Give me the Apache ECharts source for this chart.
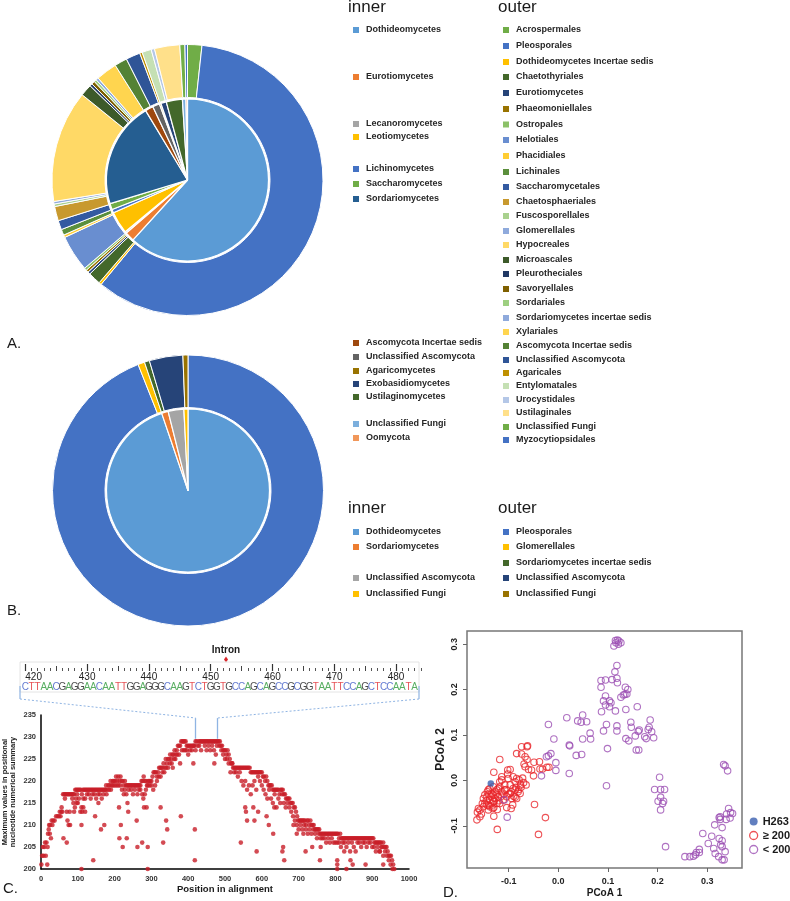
<!DOCTYPE html>
<html><head><meta charset="utf-8">
<script src="https://cdn.jsdelivr.net/npm/echarts@6/dist/echarts.min.js"></script>
<style>html,body{margin:0;padding:0;background:#fff}#c{width:790px;height:901px}</style>
</head><body><div id="c"></div>
<script>
// ---------------- DATA ----------------
// Panel A (percent of reads)
const aInnerNames = ['Dothideomycetes','Eurotiomycetes','Lecanoromycetes','Leotiomycetes','Lichinomycetes','Saccharomycetes','Sordariomycetes','Ascomycota Incertae sedis','Unclassified Ascomycota','Agaricomycetes','Exobasidiomycetes','Ustilaginomycetes','Unclassified Fungi','Oomycota'];
const aInnerValues = [61.5,1.9,0.3,4.4,0.7,1.2,21.0,1.6,1.4,0.3,1.1,3.2,0.7,0.3];
const aOuterNames = ['Acrospermales','Pleosporales','Dothideomycetes Incertae sedis','Chaetothyriales','Eurotiomycetes','Phaeomoniellales','Ostropales','Helotiales','Phacidiales','Lichinales','Saccharomycetales','Chaetosphaeriales','Fuscosporellales','Glomerellales','Hypocreales','Microascales','Pleurotheciales','Savoryellales','Sordariales','Sordariomycetes incertae sedis','Xylariales','Ascomycota Incertae sedis','Unclassified Ascomycota','Agaricales','Entylomatales','Urocystidales','Ustilaginales','Unclassified Fungi','Myzocytiopsidales'];
const aOuterValues = [1.7,59.0,0.3,1.5,0.3,0.3,0.3,4.3,0.3,0.7,1.1,1.7,0.3,0.3,13.3,1.4,0.3,0.4,0.3,0.3,2.5,1.5,1.7,0.3,1.1,0.4,3.0,0.6,0.3];
// Panel B
const bInnerNames = ['Dothideomycetes','Sordariomycetes','Unclassified Ascomycota','Unclassified Fungi'];
const bInnerValues = [94.4,1.3,3.1,0.8];
const bOuterNames = ['Pleosporales','Glomerellales','Sordariomycetes incertae sedis','Unclassified Ascomycota','Unclassified Fungi'];
const bOuterValues = [94.0,0.8,0.6,4.0,0.6];
// Panel C sequence header
const seqStart = 420;
const sequence = 'CTTAACGAGGAACAATTGGAGGGCAAGTCTGGTGCCAGCAGCCGCGGTAATTCCAGCTCCAATA';
const rulerLabels = [420,430,440,450,460,470,480];
const rulerMid = [425,435,445,455,465,475];
// Panel C scatter: [position, max value]
const cTop = [[1,201],[3,203],[5,205],[7,203],[9,205],[11,206],[13,203],[15,206],[17,201],[18,205],[19,208],[21,209],[22,210],[24,208],[25,210],[27,207],[29,211],[31,210],[33,211],[37,211],[41,212],[45,212],[49,212],[51,213],[53,212],[55,213],[56,214],[58,213],
[60,217],[63,217],[66,217],[69,217],[72,217],[75,217],[78,217],[81,217],[84,217],[87,217],[90,217],[93,218],[96,218],[99,218],[102,218],[105,218],[108,218],[111,217],[114,218],[117,218],[120,218],[123,218],[126,218],[129,218],[132,218],[135,218],[138,218],[141,218],[144,218],[147,218],[150,218],[153,218],[156,218],[159,218],[162,218],[165,218],[168,218],[171,218],[174,218],[177,219],[180,218],[183,219],[186,219],[189,220],[192,219],[195,220],[198,220],[201,220],[204,221],[207,220],[210,221],[213,220],[216,221],[219,220],[222,220],[225,219],[228,220],[231,219],[234,219],[237,219],[240,219],[243,219],[246,219],[249,219],[252,219],[255,219],[258,219],[261,219],[264,219],[267,219],[270,219],[273,220],[276,220],[279,221],[282,220],[285,220],[288,219],[291,220],[294,220],[297,220],[300,220],[303,221],[306,222],[309,222],[312,222],[315,221],[318,222],[321,223],[324,223],[327,223],[330,223],[333,224],[336,223],[339,225],[342,224],[345,225],[348,225],[351,226],[354,225],[357,226],[360,226],[363,227],[366,226],[369,227],[372,228],[375,228],[378,228],[381,229],[384,229],[387,229],[390,229],[393,229],[396,228],[399,228],[402,228],[405,228],[408,228],[411,228],[414,228],[417,228],[420,229],[423,229],[426,228],[429,229],[432,229],[435,229],[438,229],[441,229],[444,229],[447,229],[450,229],[453,229],[456,229],[459,229],[462,229],[465,229],[468,229],[471,229],[474,229],[477,229],[480,229],[483,229],[486,229],[489,228],[492,228],[495,227],[498,227],[501,227],[504,226],[507,227],[510,226],[513,225],[516,224],[519,224],[522,223],[525,223],[528,223],[531,223],[534,223],[537,223],[540,223],[543,223],[546,223],[549,223],[552,223],[555,223],[558,223],[561,223],[564,223],[567,223],[570,222],[573,222],[576,222],[579,222],[582,222],[585,222],[588,222],[591,222],[594,222],[597,222],[600,222],[603,221],[606,221],[609,220],[612,221],[615,220],[618,219],[621,219],[624,219],[627,219],[630,218],[633,218],[636,218],[639,218],[642,218],[645,218],[648,217],[651,218],[654,218],[657,218],[660,217],[663,217],[666,216],[669,216],[672,216],[675,216],[678,215],[681,215],[684,215],[687,214],[690,214],[693,213],[696,212],[699,211],[702,211],[705,211],[708,211],[711,211],[714,211],[717,211],[720,210],[723,211],[726,211],[729,210],[732,211],[735,210],[738,210],[741,210],[744,209],[747,209],[750,209],[753,209],[756,209],[759,208],[762,208],[765,208],[768,208],[771,208],[774,208],[777,208],[780,208],[783,208],[786,208],[789,208],[792,208],[795,208],[798,208],[801,208],[804,208],[807,208],[810,207],[813,208],[816,207],[819,207],[822,207],[825,207],[828,207],[831,207],[834,207],[837,207],[840,207],[843,207],[846,207],[849,207],[852,207],[855,207],[858,207],[861,207],[864,207],[867,207],[870,207],[873,207],[876,207],[879,207],[882,207],[885,207],[888,207],[891,207],[894,207],[897,207],[900,207],[903,207],[906,206],[909,206],[912,206],[915,206],[918,206],[921,206],[924,206],[927,205],[930,206],[933,205],[936,205],[939,205],[942,204],[945,203],[948,203],[951,203],[954,202],[957,201],[960,200]];
const cLower = [[65,216],[70,213],[72,211],[75,210],[78,213],[85,216],[88,215],[90,213],[92,214],[95,216],[98,217],[100,215],[103,216],[107,213],[110,214],[112,213],[115,216],[120,216],[125,217],[130,217],[135,216],[140,217],[145,217],[150,216],[155,217],[160,217],[165,216],[170,217],[175,218],[178,217],
[185,218],[190,218],[195,219],[200,219],[205,219],[210,219],[215,219],[220,218],[225,217],[228,218],[232,217],[238,218],[245,218],[250,217],[255,218],[262,217],[266,218],[270,218],[275,217],[278,216],[282,217],[285,218],[290,219],[295,219],[300,219],[305,218],[310,219],[315,220],[320,221],[325,221],[330,222],[335,222],[340,223],[345,223],[350,224],[355,224],[358,223],[362,225],[365,225],[370,226],[375,226],[378,224],[383,227],[388,227],[392,227],[396,227],[400,226],[405,227],[410,227],
[415,228],[420,227],[430,228],[435,227],[445,228],[450,227],[455,228],[460,227],[465,228],[470,227],[475,226],[478,228],[485,228],[490,227],[495,226],[500,225],[505,225],[510,224],[515,222],[520,224],[525,222],[530,222],[535,221],[540,222],
[545,220],[550,219],[555,220],[560,218],[565,219],[570,217],[575,219],[580,220],[585,218],[590,221],[595,220],[600,219],[605,218],[610,217],[615,216],[620,218],[625,216],[630,215],[635,217],[640,214],[645,216],[650,215],[655,217],[660,215],[665,214],[670,215],[675,214],[680,213],[685,212],[690,211],[695,210],[700,209],[705,210],[710,209],[715,210],[720,209],[725,208],[730,209],[735,208],[740,209],[745,208],[750,207],[755,208],[760,207],[765,207],[770,207],[775,206],[780,207],[785,206],[790,207],[795,206],[800,206],[805,206],[810,206],[815,205],[820,206],[825,206],[830,205],[835,206],[840,204],[845,206],[850,205],[855,204],[860,206],[865,206],[870,205],[875,206],[880,206],[885,205],[890,206],[895,206],[900,205],[905,205],[910,204],[915,205],[920,204],[925,205],[930,203],[935,204],[940,203],[945,202],[950,201],[955,200]];
const cOutliers = [[61,207],[70,206],[79,210],[110,200],[142,202],[147,212],[156,215],[163,209],[172,210],[110,210],[115,214],[120,213],[97,215],[212,214],[213,207],[217,210],[222,205],[233,207],[235,215],[237,213],[260,211],[262,205],[275,206],[280,214],[287,214],[290,205],[290,200],[325,214],[332,206],[340,211],[343,209],[380,212],[414,224],[418,209],[418,202],[471,224],[543,206],[555,214],[557,213],[560,211],[580,211],[586,204],[577,214],[590,213],[613,212],[619,210],[631,208],[634,214],[658,205],[656,204],[661,202],[695,208],[686,210],[713,208],[719,204],[737,205],[758,202],[760,205],[805,202],[805,201],[805,200],[824,204],[830,200],[841,202],[847,201],[882,201],[921,204],[930,201]];
// Panel D: PCoA coordinates [PCoA1, PCoA2]
const dH263 = [[-0.136,-0.007]];
const dGe200 = [[-0.074,0.074],[-0.063,0.074],[-0.062,0.076],[-0.084,0.059],[-0.074,0.058],[-0.067,0.052],[-0.118,0.046],[-0.063,0.046],[-0.049,0.040],[-0.038,0.041],[-0.069,0.036],[-0.067,0.030],[-0.060,0.024],[-0.054,0.023],[-0.037,0.025],[-0.032,0.025],[-0.023,0.029],[-0.019,0.029],[-0.050,0.010],[-0.130,0.018],[-0.102,0.023],[-0.097,0.024],[-0.102,0.014],[-0.048,-0.053],[-0.026,-0.082],[-0.040,-0.119],[-0.123,-0.108],[-0.130,-0.079],[-0.123,-0.064],[-0.163,-0.070],[-0.161,-0.062],[-0.158,-0.080],[-0.155,-0.074],[-0.164,-0.087],[-0.104,-0.060],[-0.095,-0.062],[-0.092,-0.054],[-0.087,-0.037],[-0.077,-0.029],[-0.076,-0.010],[-0.079,0.001],[-0.087,-0.003],[-0.091,-0.018],[-0.097,-0.029],[-0.108,-0.021],[-0.114,-0.025],[-0.114,0.001],[-0.118,-0.014],[-0.121,-0.036],[-0.124,-0.051],[-0.144,-0.036],[-0.148,-0.051],[-0.151,-0.058],[-0.141,-0.021],[-0.138,-0.018],[-0.134,-0.029],[-0.131,-0.014],[-0.128,-0.040],[-0.138,-0.043],[-0.134,-0.051],[-0.143,-0.025],[-0.151,-0.040],[-0.148,-0.032],[-0.128,-0.025],[-0.121,-0.018],[-0.118,-0.003],[-0.114,0.008],[-0.101,0.004],[-0.091,0.008],[-0.084,0.004],[-0.108,-0.010],[-0.097,-0.010],[-0.087,-0.021],[-0.081,-0.025],[-0.104,-0.036],[-0.094,-0.040],[-0.084,-0.040],[-0.111,-0.043],[-0.118,-0.051],[-0.132,-0.062],[-0.141,-0.065],[-0.144,-0.054],[-0.124,-0.021],[-0.131,-0.032],[-0.153,-0.051],[-0.158,-0.065],[-0.138,-0.058],[-0.130,-0.047],[-0.140,-0.030],[-0.135,-0.035],[-0.130,-0.045],[-0.125,-0.030],[-0.145,-0.045],[-0.140,-0.055],[-0.130,-0.060],[-0.120,-0.045],[-0.115,-0.035],[-0.110,-0.030],[-0.105,-0.020],[-0.100,-0.030],[-0.095,-0.025],[-0.090,-0.035],[-0.085,-0.015],[-0.080,-0.020],[-0.075,-0.015],[-0.070,-0.005],[-0.072,0.005],[-0.065,-0.010]];
const dLt200 = [[0.112,0.296],[0.116,0.303],[0.119,0.309],[0.122,0.307],[0.126,0.303],[0.121,0.300],[0.115,0.308],[0.118,0.253],[0.114,0.239],[0.118,0.225],[0.119,0.215],[0.086,0.220],[0.095,0.221],[0.108,0.222],[0.086,0.205],[0.095,0.186],[0.091,0.175],[0.103,0.175],[0.106,0.171],[0.095,0.166],[0.103,0.162],[0.087,0.151],[0.115,0.153],[0.091,0.109],[0.097,0.123],[0.118,0.120],[0.118,0.109],[0.099,0.070],[0.135,0.205],[0.140,0.200],[0.126,0.183],[0.131,0.188],[0.134,0.189],[0.138,0.190],[0.136,0.156],[0.159,0.162],[0.146,0.128],[0.147,0.117],[0.155,0.098],[0.136,0.092],[0.142,0.087],[0.161,0.108],[0.163,0.111],[0.174,0.096],[0.177,0.092],[0.181,0.112],[0.185,0.133],[0.183,0.117],[0.188,0.107],[0.192,0.094],[0.157,0.067],[0.162,0.067],[-0.020,0.123],[-0.009,0.091],[-0.015,0.059],[-0.020,0.054],[-0.024,0.052],[-0.005,0.039],[0.017,0.138],[0.022,0.078],[0.023,0.076],[0.049,0.144],[0.039,0.131],[0.046,0.128],[0.057,0.129],[0.064,0.104],[0.065,0.091],[0.049,0.091],[0.036,0.055],[0.047,0.057],[0.022,0.015],[-0.005,0.022],[-0.034,0.010],[0.097,-0.012],[-0.103,-0.081],[-0.109,-0.043],[0.204,0.007],[0.194,-0.020],[0.206,-0.020],[0.206,-0.037],[0.214,-0.020],[0.201,-0.046],[0.212,-0.046],[0.210,-0.051],[0.206,-0.065],[0.216,-0.146],[0.333,0.035],[0.336,0.032],[0.341,0.021],[0.343,-0.062],[0.347,-0.071],[0.351,-0.073],[0.339,-0.074],[0.346,-0.083],[0.338,-0.086],[0.326,-0.080],[0.326,-0.086],[0.324,-0.082],[0.315,-0.098],[0.330,-0.104],[0.324,-0.128],[0.330,-0.133],[0.327,-0.142],[0.330,-0.146],[0.309,-0.123],[0.313,-0.150],[0.316,-0.161],[0.323,-0.168],[0.330,-0.175],[0.334,-0.175],[0.336,-0.157],[0.302,-0.139],[0.291,-0.117],[0.284,-0.159],[0.278,-0.159],[0.276,-0.164],[0.272,-0.167],[0.265,-0.168],[0.255,-0.168],[0.284,-0.152]];
const dTicks = [-0.1,0.0,0.1,0.2,0.3];

// ---------------- STYLE / LAYOUT ----------------
const FONT = '"Liberation Sans", Arial, Helvetica, sans-serif';
const aInnerColors = ['#5B9BD5','#ED7D31','#A5A5A5','#FFC000','#4472C4','#70AD47','#255E91','#9E480E','#636363','#997300','#264478','#43682B','#7CAFDD','#F1975A'];
const aOuterColors = ['#70AD47','#4472C4','#FFC000','#43682B','#264478','#997300','#8CC168','#698ED0','#FFCD33','#5B8F3C','#335AA1','#C8992E','#A9D18E','#8FAADC','#FFD966','#3D5A2A','#203864','#7F6000','#9DCF80','#8FAADC','#FFD54F','#548235','#2F5597','#BF9000','#C5E0B4','#B4C7E7','#FFE08A','#70AD47','#4472C4'];
const bInnerColors = ['#5B9BD5','#ED7D31','#A5A5A5','#FFC000'];
const bOuterColors = ['#4472C4','#FFC000','#43682B','#264478','#997300'];
const aInnerLegendY = [30,77,124,137,169,184,199,343,357,371,384,397,424,438];
const aOuterLegendY = [30,46,62,77,93,109,124.5,140,156,172,187,202,216,231,245,260,274,289,303,318,332,346,360,373,386,400,413,427,440];
const bInnerLegendY = [532,547,578,594];
const bOuterLegendY = [532,547,563,578,594];
const baseColor = {A:'#2E9A3A', C:'#3B57C4', G:'#1a1a1a', T:'#E0262B'};

function pieData(names, values, colors){
  return names.map((n,i)=>({name:n, value:values[i], itemStyle:{color:colors[i]}}));
}
function legendCol(names, colors, ys, xSq, xText){
  const out = [];
  names.forEach((n,i)=>{
    out.push({type:'rect', shape:{x:xSq, y:ys[i]-3, width:6, height:6}, style:{fill:colors[i]}, silent:true});
    out.push({type:'text', x:xText, y:ys[i], style:{text:n, font:'bold 9px '+FONT, fill:'#262626', verticalAlign:'middle', textVerticalAlign:'middle'}, silent:true});
  });
  return out;
}
function txt(x,y,t,font,opts){
  return Object.assign({type:'text', x:x, y:y, silent:true, style:Object.assign({text:t, font:font, fill:'#1a1a1a', verticalAlign:'middle', textVerticalAlign:'middle'}, opts||{})});
}

const pieCommon = {type:'pie', startAngle:90, clockwise:true, label:{show:false}, labelLine:{show:false}, emphasis:{disabled:true}, silent:true, avoidLabelOverlap:false};

const graphics = [].concat(
  [txt(348,7,'inner','17px '+FONT), txt(498,7,'outer','17px '+FONT)],
  legendCol(aInnerNames, aInnerColors, aInnerLegendY, 353, 366),
  legendCol(aOuterNames, aOuterColors, aOuterLegendY, 503, 516),
  [txt(348,508,'inner','17px '+FONT), txt(498,508,'outer','17px '+FONT)],
  legendCol(bInnerNames, bInnerColors, bInnerLegendY, 353, 366),
  legendCol(bOuterNames, bOuterColors, bOuterLegendY, 503, 516),
  [txt(7,344,'A.','15px '+FONT), txt(7,611,'B.','15px '+FONT), txt(3,889,'C.','15px '+FONT), txt(443,893,'D.','15px '+FONT)],
  [txt(226,650,'Intron','bold 10px '+FONT,{align:'center',textAlign:'center'}),
   {type:'polygon', silent:true, shape:{points:[[226,656.5],[228,659.5],[226,662.5],[224,659.5]]}, style:{fill:'#D9262B'}},
   {type:'rect', silent:true, shape:{x:20,y:662,width:399,height:30}, style:{fill:'none', stroke:'#e4e4e4', lineWidth:1}},
   {type:'polyline', silent:true, shape:{points:[[20,686],[20,699]]}, style:{stroke:'#8FB4E3', lineWidth:1.2, fill:'none'}},
   {type:'polyline', silent:true, shape:{points:[[419,686],[419,699]]}, style:{stroke:'#8FB4E3', lineWidth:1.2, fill:'none'}},
   {type:'line', silent:true, shape:{x1:20,y1:699,x2:195.6,y2:718}, style:{stroke:'#8FB4E3', lineWidth:1, lineDash:[2,2]}},
   {type:'line', silent:true, shape:{x1:419,y1:699,x2:217.6,y2:718}, style:{stroke:'#8FB4E3', lineWidth:1, lineDash:[2,2]}}
  ]
);

const seqData = sequence.split('').map((b,i)=>({value:[seqStart+i,0.5], name:b, label:{color:baseColor[b]}}));
const rulerMax = seqStart + sequence.length;

const ptColor = '#C81E28';
const cAxisLabel = {fontSize:7.5, fontWeight:'bold', color:'#333', fontFamily:FONT};
const dAxisLabel = {fontSize:9, fontWeight:'bold', color:'#222', fontFamily:FONT};

const option = {
  animation:false,
  backgroundColor:'#fff',
  textStyle:{fontFamily:FONT},
  graphic:{elements:graphics},
  legend:{
    data:[
      {name:'H263', icon:'circle', itemStyle:{color:'#3A5FAF'}},
      {name:'\u2265 200', icon:'circle', itemStyle:{color:'#fff', borderColor:'#E8262B', borderWidth:1.3}},
      {name:'< 200', icon:'circle', itemStyle:{color:'#fff', borderColor:'#9B4FB3', borderWidth:1.3}}
    ],
    orient:'vertical', left:744, top:811, itemWidth:8, itemHeight:8, itemGap:3, selectedMode:false,
    textStyle:{fontSize:11, fontWeight:'bold', color:'#1a1a1a', fontFamily:FONT}
  },
  grid:[
    {left:25.3, top:664, width:395.5, height:7},
    {left:25.3, top:683, width:395.5, height:8},
    {left:41, top:715, width:368, height:154},
    {left:467, top:631, width:275, height:237, show:true, borderColor:'#777', borderWidth:1.5, backgroundColor:'transparent'}
  ],
  xAxis:[
    {gridIndex:0, position:'bottom', type:'value', min:seqStart, max:rulerMax, interval:1, axisLine:{show:false}, splitLine:{show:false},
      axisTick:{show:true, inside:true, length:3, lineStyle:{color:'#555', width:1}}, axisLabel:{show:false}},
    {gridIndex:0, position:'bottom', type:'value', min:seqStart, max:rulerMax, axisLine:{show:false}, splitLine:{show:false},
      axisTick:{show:true, inside:true, length:5, customValues:rulerMid, lineStyle:{color:'#444', width:1}}, axisLabel:{show:false, customValues:rulerMid}},
    {gridIndex:0, position:'bottom', type:'value', min:seqStart, max:rulerMax, axisLine:{show:false}, splitLine:{show:false},
      axisTick:{show:true, inside:true, length:7, customValues:rulerLabels, lineStyle:{color:'#333', width:1.2}},
      axisLabel:{show:true, customValues:rulerLabels, fontSize:10, lineHeight:10, color:'#222', margin:1, alignMinLabel:'left'}},
    {gridIndex:1, type:'value', min:seqStart, max:rulerMax, show:false},
    {gridIndex:2, type:'value', min:0, max:1000, interval:100, splitLine:{show:false},
      axisLine:{show:true, onZero:false, lineStyle:{color:'#000', width:1.5}}, axisTick:{show:false},
      axisLabel:Object.assign({margin:6, formatter:v=>String(v)}, cAxisLabel),
      name:'Position in alignment', nameLocation:'middle', nameGap:15, nameTextStyle:{fontSize:9.5, fontWeight:'bold', color:'#1a1a1a'}},
    {gridIndex:3, type:'value', position:'bottom', min:-0.184, max:0.370, splitLine:{show:false}, axisLine:{show:false, onZero:false},
      axisTick:{show:true, length:4, customValues:dTicks, lineStyle:{color:'#666'}},
      axisLabel:Object.assign({customValues:dTicks, margin:9, formatter:v=>v.toFixed(1)}, dAxisLabel),
      name:'PCoA 1', nameLocation:'middle', nameGap:20, nameTextStyle:{fontSize:10, fontWeight:'bold', color:'#1a1a1a'}}
  ],
  yAxis:[
    {gridIndex:0, type:'value', show:false, min:0, max:1},
    {gridIndex:1, type:'value', show:false, min:0, max:1},
    {gridIndex:2, type:'value', min:200, max:235, interval:5, splitLine:{show:false},
      axisLine:{show:true, onZero:false, lineStyle:{color:'#000', width:1.5}}, axisTick:{show:false}, axisLabel:Object.assign({margin:5}, cAxisLabel),
      name:'Maximum values in positional\nnucleotide numerical summary', nameLocation:'middle', nameGap:24,
      nameTextStyle:{fontSize:7.5, fontWeight:'bold', color:'#1a1a1a', lineHeight:8}},
    {gridIndex:3, type:'value', position:'left', min:-0.193, max:0.329, splitLine:{show:false}, axisLine:{show:false, onZero:false},
      axisTick:{show:true, length:4, customValues:dTicks, lineStyle:{color:'#666'}},
      axisLabel:Object.assign({customValues:dTicks, margin:8, rotate:90, formatter:v=>v.toFixed(1)}, dAxisLabel),
      name:'PCoA 2', nameLocation:'middle', nameGap:20, nameTextStyle:{fontSize:12, fontWeight:'bold', color:'#1a1a1a'}}
  ],
  series:[
    Object.assign({}, pieCommon, {name:'A inner', center:[187.5,180], radius:[0,81], data:pieData(aInnerNames,aInnerValues,aInnerColors), itemStyle:{borderColor:'#fff', borderWidth:1.2}}),
    Object.assign({}, pieCommon, {name:'A outer', center:[187.5,180], radius:[82.5,135.5], data:pieData(aOuterNames,aOuterValues,aOuterColors), itemStyle:{borderColor:'#fff', borderWidth:1}}),
    Object.assign({}, pieCommon, {name:'B inner', center:[188,490.5], radius:[0,81.5], data:pieData(bInnerNames,bInnerValues,bInnerColors), itemStyle:{borderColor:'#fff', borderWidth:1.2}}),
    Object.assign({}, pieCommon, {name:'B outer', center:[188,490.5], radius:[83,135.5], data:pieData(bOuterNames,bOuterValues,bOuterColors), itemStyle:{borderColor:'#fff', borderWidth:1}}),
    {type:'scatter', name:'sequence', xAxisIndex:3, yAxisIndex:1, data:seqData, symbolSize:1, itemStyle:{color:'transparent'}, silent:true,
      label:{show:true, position:'inside', formatter:'{b}', fontSize:10, fontFamily:FONT}},
    {type:'scatter', name:'C top', xAxisIndex:4, yAxisIndex:2, data:cTop, symbolSize:4.6, itemStyle:{color:ptColor}, silent:true,
      markLine:{silent:true, symbol:'none', label:{show:false}, lineStyle:{color:'#8FB4E3', width:1.3, type:'solid'},
        data:[[{coord:[420,234.3]},{coord:[420,229.6]}],[{coord:[480,234.3]},{coord:[480,229.6]}]]}},
    {type:'scatter', name:'C lower', xAxisIndex:4, yAxisIndex:2, data:cLower, symbolSize:4.6, itemStyle:{color:ptColor}, silent:true},
    {type:'scatter', name:'C outliers', xAxisIndex:4, yAxisIndex:2, data:cOutliers, symbolSize:4.6, itemStyle:{color:ptColor}, silent:true},
    {type:'scatter', name:'\u2265 200', xAxisIndex:5, yAxisIndex:3, data:dGe200, symbolSize:6.5, itemStyle:{color:'transparent', borderColor:'#E8262B', borderWidth:1.1}, silent:true},
    {type:'scatter', name:'< 200', xAxisIndex:5, yAxisIndex:3, data:dLt200, symbolSize:6.5, itemStyle:{color:'transparent', borderColor:'#9B4FB3', borderWidth:1.1}, silent:true},
    {type:'scatter', name:'H263', xAxisIndex:5, yAxisIndex:3, data:dH263, symbolSize:6.5, itemStyle:{color:'#3A5FAF'}, silent:true}
  ]
};
const chart = echarts.init(document.getElementById('c'), null, {renderer:'canvas'});
chart.setOption(option);
</script></body></html>
